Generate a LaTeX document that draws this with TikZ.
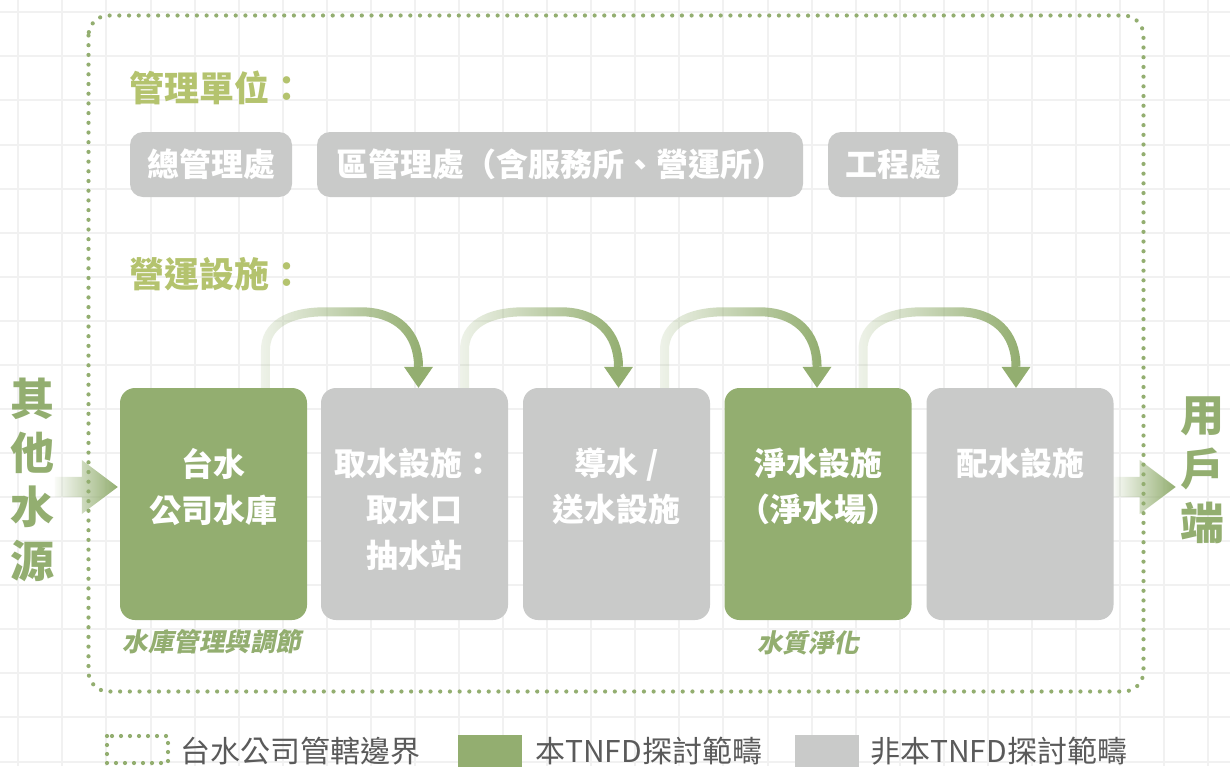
\documentclass[tikz,border=0pt]{standalone}
\usepackage{fontspec}
\setmainfont{Noto Sans CJK TC}
\newfontfamily\slantfont{Noto Sans CJK TC}[FakeSlant=0.2]
\usetikzlibrary{calc,fadings}

\definecolor{tngreen}{RGB}{147,174,112}
\definecolor{tngray}{RGB}{201,202,201}
\definecolor{headgreen}{RGB}{180,195,110}
\definecolor{gridgray}{RGB}{241,241,241}
\definecolor{legendgray}{RGB}{90,90,90}

\tikzfading[name=arcfade, left color=transparent!85, right color=transparent!0]
\tikzfading[name=sidefade, left color=transparent!95, right color=transparent!0]

\begin{document}
\begin{tikzpicture}[x=1pt, y=-1pt,
	gridline/.style={draw=gridgray, line width=2},
	boundary/.style={draw=tngreen, line width=4.2, line cap=round, dash pattern=on 0pt off 9.7pt},
	heading/.style={text=headgreen, font=\bfseries\fontsize{35}{40}\selectfont, inner sep=0, anchor=west},
	pill/.style={fill=tngray, rounded corners=13, minimum height=65, inner sep=0, text=white, font=\bfseries\fontsize{32}{38}\selectfont},
	facility/.style={rounded corners=15, minimum width=187, minimum height=232, inner sep=0},
	boxtext/.style={text=white, font=\bfseries\fontsize{32}{46}\selectfont, align=center, anchor=north, inner sep=0},
	note/.style={text=tngreen, font=\slantfont\bfseries\fontsize{25.5}{30}\selectfont, inner sep=0},
	side/.style={text=tngreen, font=\bfseries\fontsize{44}{54}\selectfont, align=center, inner sep=0},
	flowline/.style={draw=tngreen, line width=9, path fading=arcfade},
	legendtext/.style={text=legendgray, font=\fontsize{30}{34}\selectfont, anchor=west, inner sep=0}]
	\useasboundingbox (0,0) rectangle (1230,766);
	\fill[white] (0,0) rectangle (1230,766);

	% background grid
	\foreach \i in {0,...,27}
		\draw[gridline] (18.3+44.07*\i,0) -- (18.3+44.07*\i,766);
	\foreach \j in {0,...,17}
		\draw[gridline] (0,12.3+44.07*\j) -- (1230,12.3+44.07*\j);

	% management units
	\node[heading] (mgmt) at (129,88) {管理單位：};
	\node[pill, minimum width=162] (hq) at (211,164.5) {總管理處};
	\node[pill, minimum width=486] (branch) at (560,164.5) {區管理處（含服務所、營運所）};
	\node[pill, minimum width=130] (eng) at (893,164.5) {工程處};

	% facilities
	\node[heading] (ops) at (129,274.5) {營運設施：};
	\node[facility, fill=tngreen] (res) at (213.5,504) {};
	\node[facility, fill=tngray] (intake) at (414.5,504) {};
	\node[facility, fill=tngray] (convey) at (616.5,504) {};
	\node[facility, fill=tngreen] (purify) at (818,504) {};
	\node[facility, fill=tngray] (supply) at (1020,504) {};

	\node[boxtext] (res-t) at ([yshift=-60]res.north) {台水\\公司水庫};
	\node[boxtext] (intake-t) at ([yshift=-60]intake.north) {取水設施：\\取水口\\抽水站};
	\node[boxtext] (convey-t) at ([yshift=-60]convey.north) {導水 /\\送水設施};
	\node[boxtext] (purify-t) at ([yshift=-60]purify.north) {淨水設施\\（淨水場）};
	\node[boxtext] (supply-t) at ([yshift=-60]supply.north) {配水設施};

	\node[note] (res-note) at (212,642) {水庫管理與調節};
	\node[note] (purify-note) at (808,643) {水質淨化};

	% flow between facilities
	\foreach \a/\b/\s/\e in {res/intake/52/4, intake/convey/50/2, convey/purify/48/-1, purify/supply/45/-4} {
		\coordinate (\a-out) at ([xshift=\s]\a.north);
		\coordinate (\b-in) at ([xshift=\e]\b.north);
		\draw[flowline] (\a-out) -- ++(0,-38) .. controls +(0,-24) and +(-38,0) .. ++(60,-38) -- ($(\b-in)+(-58,-76)$) .. controls +(36,0) and +(0,-34) .. ($(\b-in)+(0,-21)$);
		\fill[tngreen] ($(\b-in)+(-14.5,-21)$) -- ($(\b-in)+(14.5,-21)$) -- (\b-in) -- cycle;
	}

	% sources and users
	\node[side] (src) at (32.5,479.5) {其\\他\\水\\源};
	\node[side] (user) at (1202,470.5) {用\\戶\\端};
	\coordinate (src-tip) at ([xshift=-2,yshift=17]res.west);
	\coordinate (user-tip) at ([xshift=62,yshift=17]supply.east);
	\fill[tngreen, path fading=sidefade, shift={(src-tip)}] (-63,-10) -- (-36,-10) -- (-36,-27) -- (0,0) -- (-36,27) -- (-36,10) -- (-63,10) -- cycle;
	\fill[tngreen, path fading=sidefade, shift={(user-tip)}] (-62,-10) -- (-36,-10) -- (-36,-27) -- (0,0) -- (-36,27) -- (-36,10) -- (-62,10) -- cycle;

	% company boundary
	\draw[boundary, rounded corners=20] (88.5,15.5) rectangle (1143.5,691.5);

	% legend
	\draw[boundary, dash pattern=on 0pt off 9pt] (107,736) rectangle (168,763);
	\node[legendtext] (lg-bound) at (180,751) {台水公司管轄邊界};
	\node[fill=tngreen, minimum width=64, minimum height=40, inner sep=0] (lg-ours) at (490,755) {};
	\node[legendtext] (lg-ours-t) at (535,751) {本TNFD探討範疇};
	\node[fill=tngray, minimum width=64, minimum height=40, inner sep=0] (lg-other) at (826.5,755) {};
	\node[legendtext] (lg-other-t) at (870,751) {非本TNFD探討範疇};
\end{tikzpicture}
\end{document}
